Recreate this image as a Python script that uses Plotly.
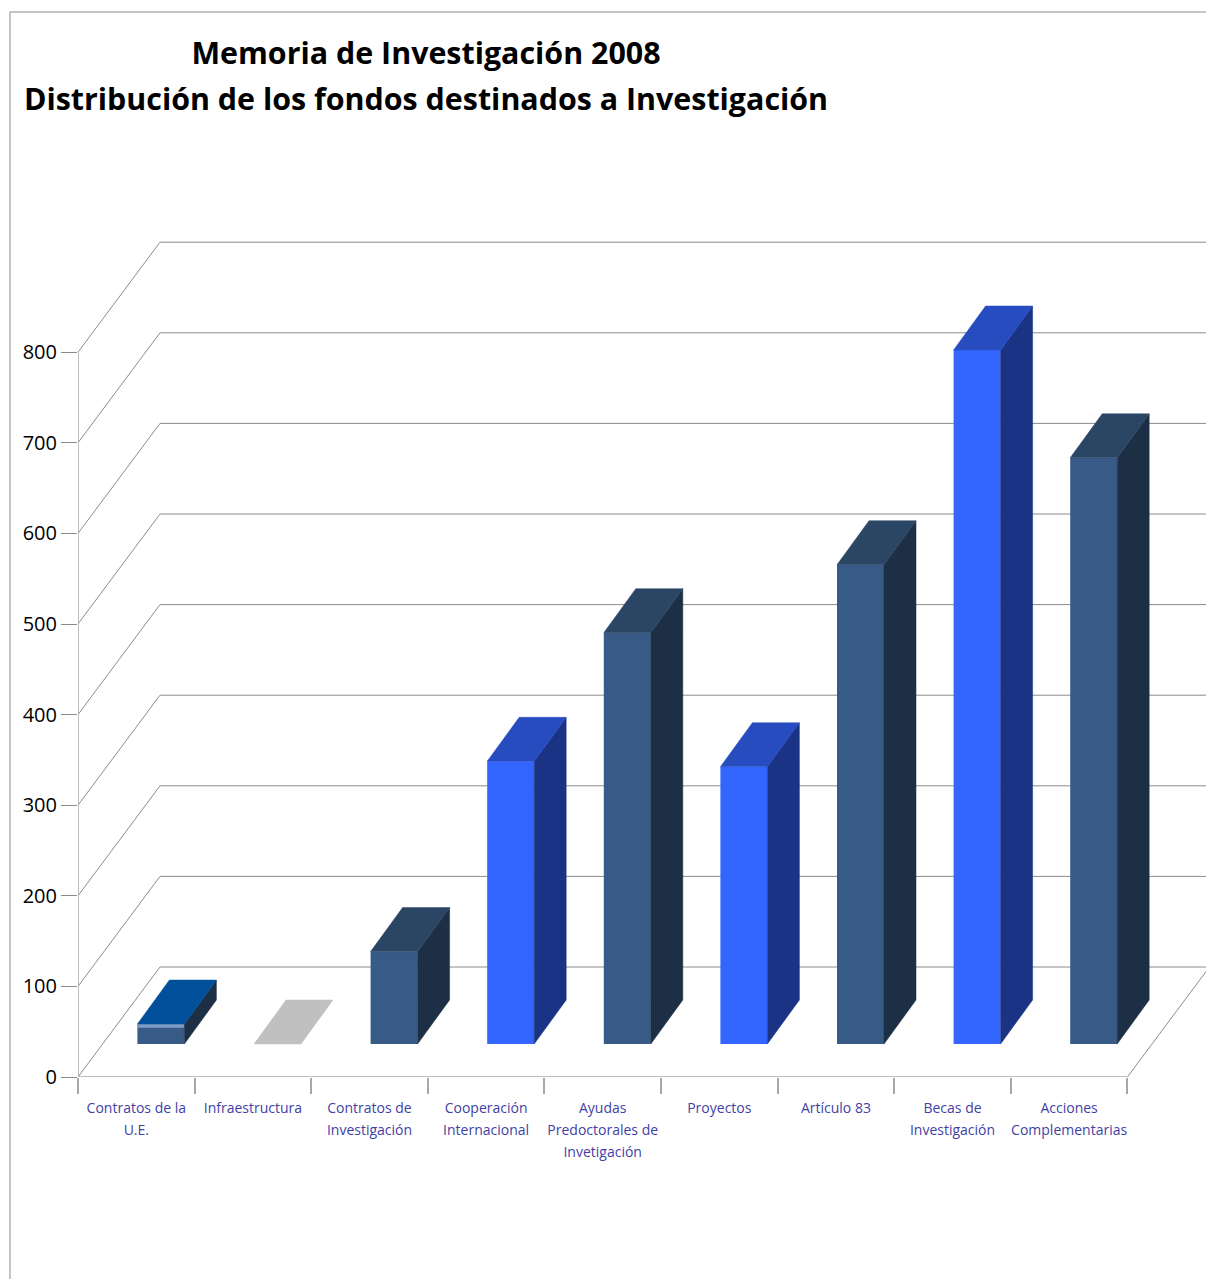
import plotly.graph_objects as go

# ---- data ----
categories = [["Contratos de la", "U.E."], ["Infraestructura"], ["Contratos de", "Investigación"],
              ["Cooperación", "Internacional"], ["Ayudas", "Predoctorales de", "Invetigación"],
              ["Proyectos"], ["Artículo 83"], ["Becas de", "Investigación"], ["Acciones", "Complementarias"]]
values = [22, 0, 102, 312, 454, 306, 529, 766, 647]
y_ticks = [0, 100, 200, 300, 400, 500, 600, 700, 800]
title_lines = ["Memoria de Investigación 2008", "Distribución de los fondos destinados a Investigación"]

front_colors = ["#385a87", "#c0c0c0", "#385a87", "#3366ff", "#385a87", "#3366ff", "#385a87", "#3366ff", "#385a87"]
side_colors = ["#1c2f45", "#c0c0c0", "#1c2f45", "#1a3384", "#1c2f45", "#1a3384", "#1c2f45", "#1a3384", "#1c2f45"]
top_colors = ["#004f9b", "#c0c0c0", "#2b4565", "#264cc0", "#2b4565", "#264cc0", "#2b4565", "#264cc0", "#2b4565"]

# ---- page geometry ----
W, H = 1206, 1279
L, T, B = 78, 200, 202
PX_X = 116.6   # pixels per category
PX_Y = 0.906   # pixels per value unit
WALL_DX, WALL_DY = 82 / PX_X, 110 / PX_Y
BAR_DX, BAR_DY = 24.6 / PX_X, 33 / PX_Y
DEPTH_DX, DEPTH_DY = 32 / PX_X, 44 / PX_Y
BAR_W = 47 / PX_X
GRID = "#8c8c8c"
AXIS = "#a8a8a8"

n = len(categories)
xs = list(range(1, n + 1))
x_max = 0.5 + (W - L) / PX_X
y_max = (H - T - B) / PX_Y
px = lambda p: (p - L) / (W - L)
py = lambda p: 1 - (p - T) / (H - T - B)

fig = go.Figure()

# front faces
fig.add_trace(go.Bar(x=[x + BAR_DX for x in xs], y=values, base=BAR_DY, width=BAR_W,
                     marker=dict(color=front_colors, line_width=0), showlegend=False))
# light rim on the first bar
fig.add_trace(go.Bar(x=[xs[0] + BAR_DX], y=[4], base=BAR_DY + values[0] - 4, width=BAR_W,
                     marker=dict(color="#7f9cc6", line_width=0), showlegend=False))

# side and top faces
for x, v, sc, tc in zip(xs, values, side_colors, top_colors):
    x0, x1 = x + BAR_DX - BAR_W / 2, x + BAR_DX + BAR_W / 2
    y0, y1 = BAR_DY, BAR_DY + v
    if v > 0:
        fig.add_trace(go.Scatter(
            x=[x1, x1 + DEPTH_DX, x1 + DEPTH_DX, x1, x1],
            y=[y0, y0 + DEPTH_DY, y1 + DEPTH_DY, y1, y0],
            mode="lines", fill="toself", fillcolor=sc, line=dict(color=sc, width=0.5),
            showlegend=False, hoverinfo="skip"))
    fig.add_trace(go.Scatter(
        x=[x0, x1, x1 + DEPTH_DX, x0 + DEPTH_DX, x0],
        y=[y1, y1, y1 + DEPTH_DY, y1 + DEPTH_DY, y1],
        mode="lines", fill="toself", fillcolor=tc, line=dict(color=tc, width=0.5),
        showlegend=False, hoverinfo="skip"))

# walls: computed from the axis ticks
shapes = []
for t in y_ticks:
    shapes.append(dict(type="line", xref="x", yref="y", layer="below", x0=0.5, y0=t,
                       x1=0.5 + WALL_DX, y1=t + WALL_DY, line=dict(color=GRID, width=1)))
    shapes.append(dict(type="line", xref="x", yref="y", layer="below", x0=0.5 + WALL_DX, y0=t + WALL_DY,
                       x1=x_max, y1=t + WALL_DY, line=dict(color=GRID, width=1)))
shapes.append(dict(type="line", xref="x", yref="y", layer="below", x0=n + 0.5, y0=0,
                   x1=n + 0.5 + WALL_DX, y1=WALL_DY, line=dict(color=GRID, width=1)))
shapes.append(dict(type="line", xref="x", yref="y", layer="below", x0=0.5, y0=0,
                   x1=0.5, y1=y_ticks[-1], line=dict(color=AXIS, width=1.5)))
shapes.append(dict(type="line", xref="x", yref="y", layer="below", x0=0.5, y0=0,
                   x1=n + 0.5, y1=0, line=dict(color=AXIS, width=1.5)))
# outer chart frame
shapes.append(dict(type="line", xref="paper", yref="paper", x0=px(10), y0=py(12), x1=px(W), y1=py(12),
                   line=dict(color=GRID, width=1)))
shapes.append(dict(type="line", xref="paper", yref="paper", x0=px(10), y0=py(12), x1=px(10), y1=py(H),
                   line=dict(color=GRID, width=1)))

ticktext = ["<br>".join(f'<span style="font-size:14px">{s}</span>' for s in c) for c in categories]

fig.update_layout(
    width=W, height=H, margin=dict(l=L, r=0, t=T, b=B, pad=0, autoexpand=False),
    paper_bgcolor="white", plot_bgcolor="white", barmode="overlay", showlegend=False,
    shapes=shapes,
    title=dict(text="<br>".join(f'<span style="font-size:30.4px">{s}</span>' for s in title_lines),
               font=dict(family="Open Sans", size=35, color="black", weight="bold"),
               x=426 / W, xanchor="center", y=1 - 64 / H, yanchor="top", yref="container"),
    xaxis=dict(range=[0.5, x_max], tickmode="array", tickvals=xs, ticktext=ticktext, tickangle=0,
               ticks="outside", ticklen=14.5, tickcolor="rgba(0,0,0,0)", showgrid=False, zeroline=False,
               showline=False, tickfont=dict(family="Open Sans", size=17, color="#3f3fa6"),
               minor=dict(tickmode="array", tickvals=[i + 0.5 for i in range(n + 1)], ticks="outside",
                          ticklen=16, tickcolor=AXIS, tickwidth=1.5, showgrid=False)),
    yaxis=dict(range=[0, y_max], tickmode="array", tickvals=y_ticks, ticks="outside", ticklen=16,
               tickcolor=GRID, tickwidth=1, showgrid=False, zeroline=False, showline=False,
               tickfont=dict(family="Open Sans", size=20, color="black")),
)

fig.write_html("out.html", config={"displayModeBar": False}, post_script="document.body.style.margin='0';")
